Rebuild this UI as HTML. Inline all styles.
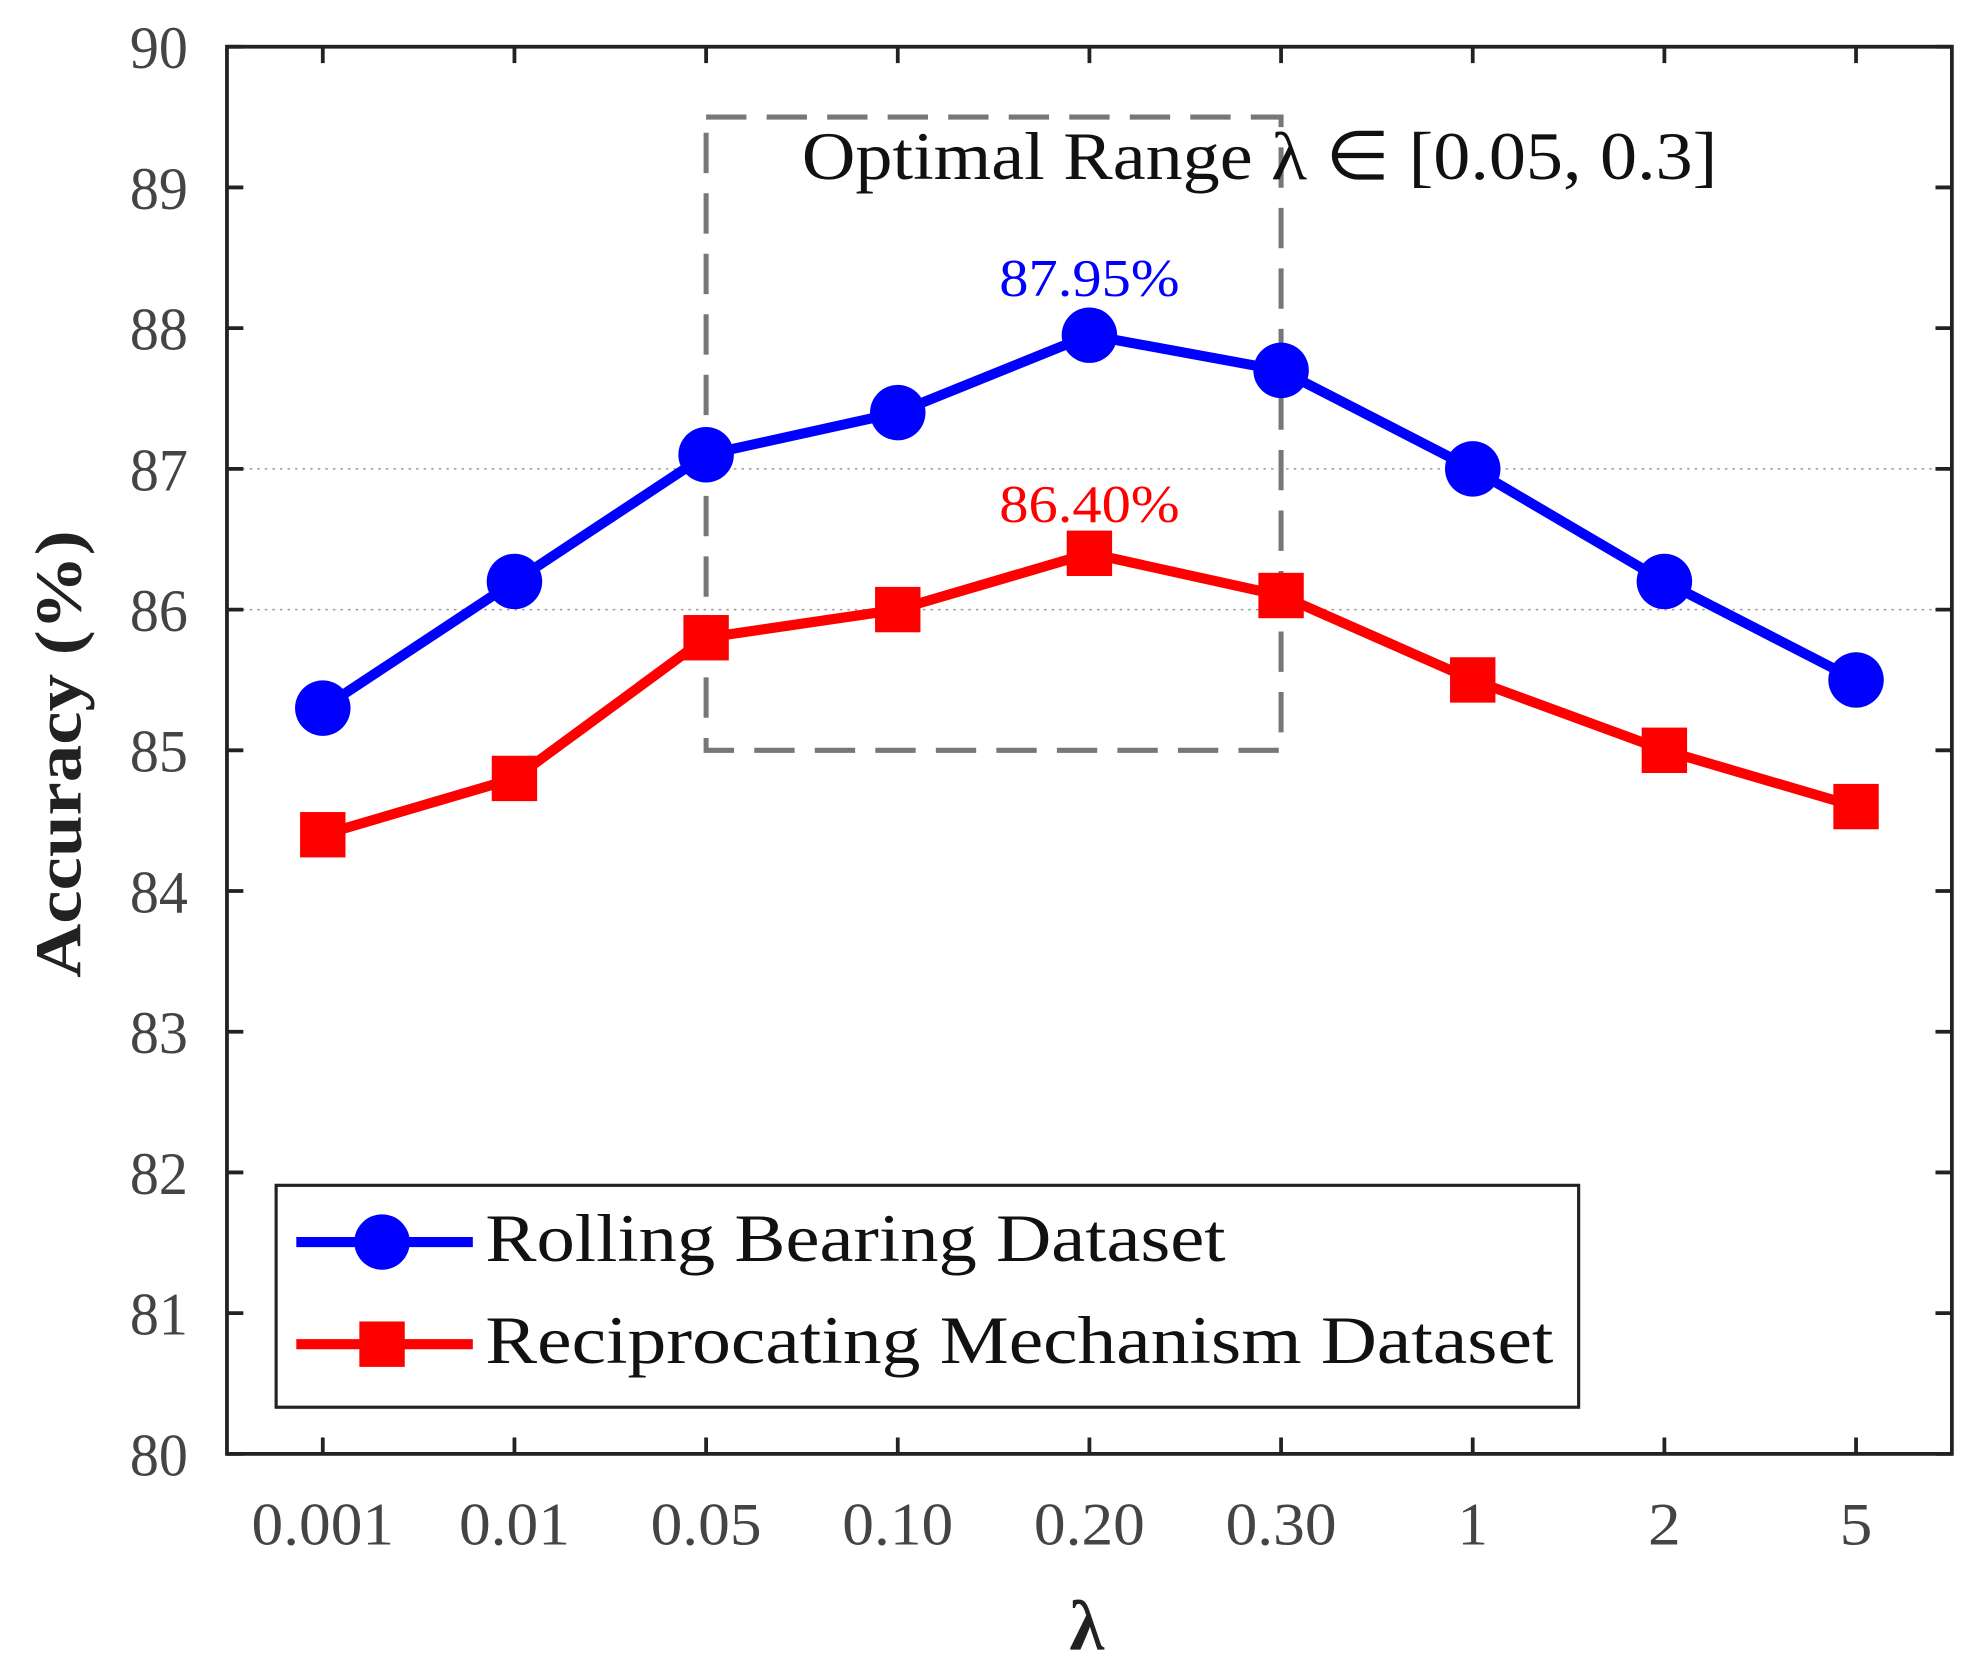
<!DOCTYPE html>
<html><head><meta charset="utf-8"><style>html,body{margin:0;padding:0;background:#fff}svg{display:block}</style></head>
<body>
<svg id="chart" width="1967" height="1662" viewBox="0 0 1560 1318" xmlns="http://www.w3.org/2000/svg" font-family="'Liberation Serif', serif"></svg>
<script>
const categories = ["0.001","0.01","0.05","0.10","0.20","0.30","1","2","5"];
const rollingValues = [85.3, 86.2, 87.1, 87.4, 87.95, 87.7, 87.0, 86.2, 85.5];
const reciprocatingValues = [84.4, 84.8, 85.8, 86.0, 86.4, 86.1, 85.5, 85.0, 84.6];
const yTicks = [80,81,82,83,84,85,86,87,88,89,90];
const gridValues = [86, 87];

const NS = "http://www.w3.org/2000/svg";
const svg = document.getElementById('chart');
const L=180,R=1548,T=37,B=1153,Y0=80,Y1=90;
const xs = i => L + (i+0.5)*(R-L)/categories.length;
const ys = v => B - (v-Y0)/(Y1-Y0)*(B-T);
function mk(tag, attrs, parent){const e=document.createElementNS(NS,tag);for(const k in attrs)e.setAttribute(k,attrs[k]);(parent||svg).appendChild(e);return e;}
const tickW = {"0.001":113,"0.01":88,"0.05":88,"0.10":88,"0.20":88,"0.30":88,"1":24,"2":26,"5":26};

gridValues.forEach(v=>{
  const g=mk('line',{x1:L,x2:R,y1:ys(v),y2:ys(v),stroke:'#999','stroke-width':1.2,'stroke-dasharray':'2 4'});
  
  
});
yTicks.forEach(v=>{
  const y=ys(v);
  mk('line',{x1:L,x2:L+13,y1:y,y2:y,stroke:'#222','stroke-width':3});
  mk('line',{x1:R,x2:R-13,y1:y,y2:y,stroke:'#222','stroke-width':3});
  const t=mk('text',{x:149,y:y+17,'text-anchor':'end','font-size':48,fill:'#444',textLength:46,lengthAdjust:'spacingAndGlyphs'});
  t.textContent=v;
  
  
});
categories.forEach((c,i)=>{
  const x=xs(i);
  mk('line',{x1:x,x2:x,y1:B,y2:B-13,stroke:'#222','stroke-width':3});
  mk('line',{x1:x,x2:x,y1:T,y2:T+13,stroke:'#222','stroke-width':3});
  const t=mk('text',{x:x,y:1225,'text-anchor':'middle','font-size':48,fill:'#444',textLength:tickW[c]||60,lengthAdjust:'spacingAndGlyphs'});
  t.textContent=c;
  
  
});
const ax=mk('rect',{x:L,y:T,width:R-L,height:B-T,fill:'none',stroke:'#222','stroke-width':3});



const box=mk('rect',{x:xs(2),y:ys(89.5),width:xs(5)-xs(2),height:ys(85)-ys(89.5),fill:'none',stroke:'#777','stroke-width':4,'stroke-dasharray':'32 16'});


const ot=mk('text',{x:636,y:142,'font-size':54,fill:'#111',textLength:726,lengthAdjust:'spacingAndGlyphs'});
ot.textContent='Optimal Range λ ∈ [0.05, 0.3]';



function series(vals,color,shape,name){
  const pts=vals.map((v,i)=>xs(i)+','+ys(v)).join(' ');
  const pl=mk('polyline',{points:pts,fill:'none',stroke:color,'stroke-width':8,'stroke-linejoin':'round'});
  
  
  vals.forEach((v,i)=>{
    let m;
    if(shape==='circle') m=mk('circle',{cx:xs(i),cy:ys(v),r:22,fill:color});
    else m=mk('rect',{x:xs(i)-18,y:ys(v)-18,width:36,height:36,fill:color});
    
    
  });
}
series(rollingValues,'#0000ff','circle','rolling-bearing');
series(reciprocatingValues,'#ff0000','square','reciprocating');

const bi=rollingValues.indexOf(Math.max(...rollingValues));
const bl=mk('text',{x:xs(bi),y:ys(rollingValues[bi])-31,'text-anchor':'middle','font-size':42,fill:'#0000ff',textLength:143,lengthAdjust:'spacingAndGlyphs'});
bl.textContent=rollingValues[bi].toFixed(2)+'%';


const ri=reciprocatingValues.indexOf(Math.max(...reciprocatingValues));
const rl=mk('text',{x:xs(ri),y:ys(reciprocatingValues[ri])-25,'text-anchor':'middle','font-size':42,fill:'#ff0000',textLength:143,lengthAdjust:'spacingAndGlyphs'});
rl.textContent=reciprocatingValues[ri].toFixed(2)+'%';



const lg=mk('g',{});


mk('rect',{x:219,y:940,width:1033,height:176,fill:'#fff',stroke:'#222','stroke-width':2.5},lg);
const e1=mk('g',{},lg);


mk('line',{x1:235,x2:375,y1:985,y2:985,stroke:'#0000ff','stroke-width':8},e1);
mk('circle',{cx:303,cy:985,r:22,fill:'#0000ff'},e1);
const t1=mk('text',{x:385,y:1000,'font-size':54,fill:'#111',textLength:587,lengthAdjust:'spacingAndGlyphs'},e1);t1.textContent='Rolling Bearing Dataset';
const e2=mk('g',{},lg);


mk('line',{x1:235,x2:375,y1:1066,y2:1066,stroke:'#ff0000','stroke-width':8},e2);
mk('rect',{x:285,y:1048,width:36,height:36,fill:'#ff0000'},e2);
const t2=mk('text',{x:385,y:1081,'font-size':54,fill:'#111',textLength:847,lengthAdjust:'spacingAndGlyphs'},e2);t2.textContent='Reciprocating Mechanism Dataset';

const yt=mk('text',{x:0,y:0,'text-anchor':'middle','font-size':52,'font-weight':'bold',fill:'#222',textLength:355,lengthAdjust:'spacingAndGlyphs',transform:'translate(64,598) rotate(-90)'});
yt.textContent='Accuracy (%)';


const xt=mk('text',{x:862,y:1308,'text-anchor':'middle','font-size':56,'font-weight':'bold',fill:'#222'});
xt.textContent='λ';


</script>
</body></html>
